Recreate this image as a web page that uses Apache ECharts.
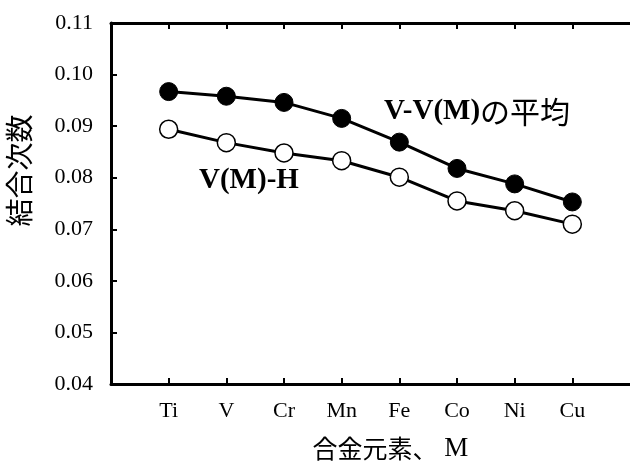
<!DOCTYPE html>
<html>
<head>
<meta charset="utf-8">
<script src="https://cdn.jsdelivr.net/npm/echarts@6/dist/echarts.min.js"></script>
<style>
  html, body { margin: 0; padding: 0; background: #fff; }
  #chart { width: 630px; height: 466px; }
</style>
</head>
<body>
<div id="chart"></div>
<script>
// Alloying elements along the x axis (blank slots pad both ends of the axis)
const elements = ['Ti', 'V', 'Cr', 'Mn', 'Fe', 'Co', 'Ni', 'Cu'];
const axisSlots = [''].concat(elements, ['']);

// Bond order: average V-V(M) (filled circles) and V(M)-H (open circles)
const bondVVM = [0.0967, 0.0958, 0.0946, 0.0915, 0.0869, 0.0818, 0.0788, 0.0753];
const bondVMH = [0.0894, 0.0868, 0.0848, 0.0833, 0.0801, 0.0755, 0.0736, 0.0710];

// Value-axis ticks
const yMin = 0.04, yMax = 0.11, yStep = 0.01;

const serif = "'Liberation Serif', 'Times New Roman', serif";
const cjk = "'Noto Sans CJK JP', sans-serif";

const chart = echarts.init(document.getElementById('chart'), null, { renderer: 'canvas' });

const tickShown = (i) => i > 0 && i < axisSlots.length - 1;
const frameLine = { show: true, onZero: false, lineStyle: { color: '#000', width: 3 } };
const inTick = { show: true, inside: true, length: 6, interval: tickShown, lineStyle: { color: '#000', width: 2 } };

chart.setOption({
  backgroundColor: '#fff',
  animation: false,
  grid: { left: 111, right: 0, top: 23, bottom: 82, containLabel: false, outerBoundsMode: 'none' },
  xAxis: [
    {
      type: 'category',
      position: 'bottom',
      data: axisSlots,
      boundaryGap: false,
      axisLine: frameLine,
      axisTick: inTick,
      axisLabel: { color: '#000', fontFamily: serif, fontSize: 22, margin: 16, interval: 0 },
      splitLine: { show: false },
      name: '{j|合金元素、}{m| M}',
      nameLocation: 'middle',
      nameGap: 51,
      nameTextStyle: {
        color: '#000',
        padding: [0, 0, 0, 40],
        rich: {
          j: { fontFamily: cjk, fontSize: 25, color: '#000' },
          m: { fontFamily: serif, fontSize: 27, color: '#000' }
        }
      }
    },
    {
      type: 'category',
      position: 'top',
      data: axisSlots,
      boundaryGap: false,
      axisLine: frameLine,
      axisTick: inTick,
      axisLabel: { show: false },
      splitLine: { show: false }
    }
  ],
  yAxis: {
    type: 'value',
    min: yMin,
    max: yMax,
    interval: yStep,
    axisLine: frameLine,
    axisTick: { show: true, inside: true, length: 6, lineStyle: { color: '#000', width: 2 } },
    axisLabel: { color: '#000', fontFamily: serif, fontSize: 22, margin: 18, formatter: (v) => v.toFixed(2) },
    splitLine: { show: false },
    name: '結合次数',
    nameLocation: 'middle',
    nameRotate: 90,
    nameGap: 78,
    nameTextStyle: { color: '#000', fontFamily: cjk, fontSize: 28, padding: [0, 0, 0, 66] }
  },
  series: [
    {
      name: 'V-V(M)の平均',
      type: 'line',
      data: elements.map((e, i) => [e, bondVVM[i]]),
      symbol: 'circle',
      symbolSize: 18,
      itemStyle: { color: '#000', borderColor: '#000', borderWidth: 1 },
      lineStyle: { color: '#000', width: 3 },
      z: 3
    },
    {
      name: 'V(M)-H',
      type: 'line',
      data: elements.map((e, i) => [e, bondVMH[i]]),
      symbol: 'circle',
      symbolSize: 18,
      itemStyle: { color: '#fff', borderColor: '#000', borderWidth: 1.5 },
      lineStyle: { color: '#000', width: 3 },
      z: 3
    }
  ],
  graphic: [
    {
      type: 'text',
      left: 384,
      top: 97,
      style: {
        text: '{a|V-V(M)}{b|の平均}',
        rich: {
          a: { fontFamily: serif, fontSize: 29, fill: '#000', fontWeight: 'bold' },
          b: { fontFamily: cjk, fontSize: 30, fill: '#000' }
        }
      }
    },
    {
      type: 'text',
      left: 199,
      top: 166,
      style: { text: 'V(M)-H', fill: '#000', font: "bold 29px 'Liberation Serif', serif" }
    }
  ]
});
</script>
</body>
</html>
